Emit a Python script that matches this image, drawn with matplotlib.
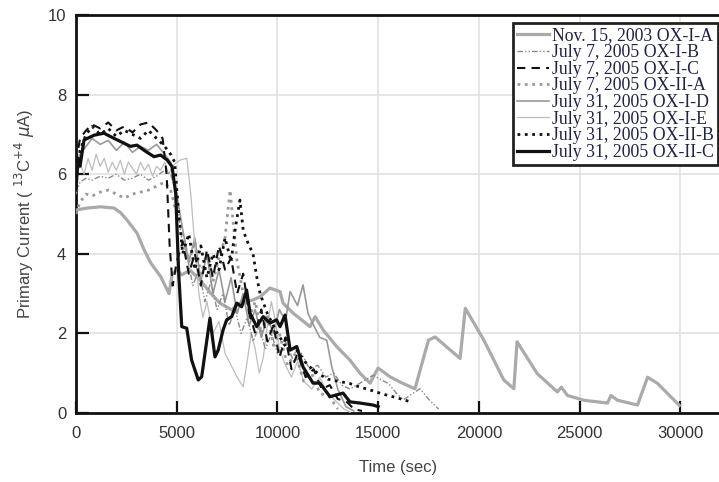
import matplotlib
matplotlib.use("Agg")
import matplotlib.pyplot as plt

# ---------------- data ----------------
labels = ["Nov. 15, 2003 OX-I-A", "July 7, 2005 OX-I-B", "July 7, 2005 OX-I-C",
          "July 7, 2005 OX-II-A", "July 31, 2005 OX-I-D", "July 31, 2005 OX-I-E",
          "July 31, 2005 OX-II-B", "July 31, 2005 OX-II-C"]

x_ia = [0, 560, 1220, 1890, 2220, 2530, 3030, 3380, 3710, 4200, 4620, 4780, 5010, 5250,
        5660, 6160, 6700, 7150, 7730, 8140, 8790, 9140, 9630, 10130, 10280, 10780, 11620,
        11870, 12280, 12940, 13600, 14100, 14600, 15000, 15590, 16200, 16830, 17500, 17830,
        19070, 19330, 20250, 21240, 21740, 21900, 22900, 23900, 24100, 24400, 25220, 26390,
        26560, 26890, 27880, 28380, 28880, 29960]
y_ia = [5.1, 5.15, 5.18, 5.15, 5.03, 4.85, 4.52, 4.1, 3.77, 3.43, 3.0, 3.5, 3.59, 3.47,
        3.59, 3.34, 3.0, 2.76, 2.59, 2.76, 2.84, 2.92, 3.14, 3.05, 2.76, 2.51, 2.17,
        2.42, 2.08, 1.67, 1.33, 1.0, 0.75, 1.13, 0.91, 0.75, 0.61, 1.83, 1.91,
        1.37, 2.63, 1.83, 0.83, 0.61, 1.79, 0.99, 0.53, 0.65, 0.44, 0.32, 0.25,
        0.44, 0.32, 0.2, 0.9, 0.74, 0.19]

x_ib = [0, 200, 500, 800, 1200, 1600, 2000, 2400, 2800, 3200, 3600, 4000, 4400, 4700, 5000,
        5200, 5500, 5800, 6100, 6400, 6700, 7000, 7300, 7600, 7900, 8200, 8500, 8800, 9100,
        9400, 9700, 10000, 10400, 10800, 11200, 11600, 12000, 12400, 12800, 13200, 13600,
        14100, 14750, 15100, 15540, 15900, 16260, 16600, 17080, 17500, 18000]
y_ib = [5.5, 5.8, 5.9, 5.85, 5.95, 5.9, 6.0, 5.85, 5.9, 6.0, 5.85, 5.95, 6.1, 6.0, 5.5,
        4.5, 4.0, 3.2, 3.6, 2.8, 3.3, 2.6, 3.0, 2.2, 2.6, 2.0, 2.4, 1.8, 2.2,
        1.6, 2.0, 1.5, 1.8, 1.3, 1.5, 1.1, 1.2, 0.9, 1.0, 0.7, 0.6,
        0.75, 0.95, 0.85, 0.73, 0.5, 0.33, 0.45, 0.61, 0.35, 0.1]

x_ic = [0, 200, 500, 800, 1200, 1600, 2000, 2400, 2800, 3200, 3600, 4000, 4300, 4500, 4650,
        4800, 5000, 5300, 5600, 5900, 6200, 6500, 6800, 7100, 7400, 7700, 8000, 8300, 8600,
        8900, 9200, 9500, 9800, 10100, 10400, 10700, 11000, 11400, 11800, 12200, 12600,
        13000, 13400, 13800, 14200]
y_ic = [6.3, 6.9, 7.1, 7.25, 7.15, 7.3, 7.1, 7.2, 7.05, 7.25, 7.3, 7.1, 6.9, 6.0, 4.2,
        3.2, 3.8, 4.3, 3.5, 4.0, 3.2, 4.1, 3.4, 4.2, 3.6, 3.9, 3.0, 3.5, 2.5,
        2.0, 2.6, 1.8, 2.2, 1.4, 1.9, 1.1, 1.5, 0.9, 1.1, 0.6, 0.7,
        0.35, 0.3, 0.1, 0.05]

x_iia = [0, 200, 500, 800, 1200, 1600, 2000, 2400, 2800, 3200, 3600, 4000, 4400, 4700, 5000,
         5300, 5600, 5900, 6200, 6500, 6800, 7100, 7400, 7650, 7800, 8000, 8300, 8600, 8900,
         9200, 9500, 9800, 10100, 10500, 10900, 11300, 11700, 12100, 12600, 13000]
y_iia = [5.0, 5.3, 5.5, 5.45, 5.55, 5.6, 5.5, 5.4, 5.5, 5.55, 5.6, 5.7, 5.8, 5.6, 5.0,
         4.5, 3.8, 4.3, 3.5, 4.0, 3.3, 3.9, 4.4, 5.6, 4.8, 3.8, 3.0, 2.4, 2.8,
         2.0, 2.5, 1.7, 2.0, 1.2, 1.5, 0.8, 1.0, 0.5, 0.4, 0.1]

x_id = [0, 200, 500, 800, 1200, 1600, 2000, 2400, 2800, 3200, 3600, 4000, 4400, 4700, 5000,
        5300, 5600, 5900, 6200, 6500, 6800, 7100, 7400, 7700, 8000, 8300, 8600, 8900, 9200,
        9500, 9800, 10100, 10400, 10630, 10800, 11000, 11270, 11520, 11800, 12100, 12450,
        12700, 13000, 13400, 13800]
y_id = [6.2, 6.5, 6.7, 6.9, 6.75, 6.85, 6.6, 6.8, 6.55, 6.7, 6.6, 6.75, 6.5, 6.3, 5.5,
        4.6, 3.8, 4.4, 3.3, 4.0, 3.0, 3.6, 2.8, 3.4, 2.5, 3.0, 2.2, 2.6, 1.9,
        2.4, 2.0, 2.6, 2.3, 3.05, 2.89, 2.7, 3.22, 2.5, 2.2, 1.9, 1.83,
        1.16, 0.6, 0.16, 0.05]

x_ie = [0, 200, 400, 600, 800, 1000, 1200, 1400, 1600, 1800, 2000, 2200, 2400, 2600, 2800,
        3000, 3200, 3400, 3600, 3800, 4000, 4200, 4400, 4600, 4800, 5000, 5200, 5500, 5700,
        5900, 6100, 6300, 6500, 6800, 7100, 7400, 7700, 8000, 8300, 8500, 8700, 8900, 9100,
        9300, 9500, 9700, 9900, 10100, 10400, 10700, 11000, 11300, 11700, 12100, 12500,
        12900, 13300, 13600]
y_ie = [5.8, 6.3, 6.0, 6.4, 6.1, 6.5, 6.2, 6.4, 6.05, 6.3, 6.1, 6.35, 6.0, 6.3, 6.15,
        6.0, 6.3, 6.1, 6.25, 5.95, 6.2, 6.1, 6.3, 6.0, 6.2, 6.3, 6.36, 6.4, 5.5,
        4.2, 3.0, 2.4, 2.8, 2.0, 2.3, 1.5, 1.2, 0.9, 0.66, 1.3, 2.0, 1.6, 1.0,
        1.4, 2.2, 2.8, 2.3, 1.6, 1.2, 0.9, 1.3, 0.8, 0.6, 0.9, 0.5,
        0.3, 0.1, 0.02]

x_iib = [0, 200, 500, 800, 1200, 1600, 2000, 2400, 2800, 3200, 3600, 4000, 4400, 4700, 4900,
         5100, 5300, 5600, 5900, 6200, 6500, 6800, 7100, 7400, 7700, 7900, 8140, 8300, 8470,
         8790, 8970, 9140, 9500, 10000, 10500, 10960, 11500, 12000, 12500, 13000, 13600,
         14100, 14600, 15200, 15800, 16300, 16600]
y_iib = [5.8, 6.6, 7.0, 7.2, 7.0, 7.15, 6.95, 7.1, 7.0, 6.9, 7.1, 6.9, 6.7, 6.5, 6.3,
         5.0, 4.0, 4.5, 3.6, 4.2, 3.4, 4.0, 3.6, 4.4, 3.8, 4.6, 5.35, 4.6, 4.35,
         4.0, 3.43, 3.0, 2.5, 2.0, 1.6, 1.58, 1.2, 1.0, 0.85, 0.8, 0.74,
         0.65, 0.58, 0.48, 0.4, 0.33, 0.28]

x_iic = [0, 100, 200, 400, 900, 1390, 1890, 2380, 2700, 3030, 3380, 3870, 4200, 4520, 4770,
         4950, 5100, 5250, 5500, 5740, 6070, 6240, 6650, 6900, 7060, 7300, 7480, 7730, 7980,
         8230, 8470, 8640, 8970, 9290, 9630, 9960, 10130, 10380, 10630, 10960, 11270, 11770,
         12110, 12610, 13260, 13600, 14100, 14750, 15000]
y_iic = [5.6, 6.4, 6.2, 6.86, 6.98, 7.03, 6.9, 6.78, 6.7, 6.73, 6.6, 6.44, 6.48, 6.36, 6.19,
         5.52, 3.5, 2.17, 2.13, 1.33, 0.83, 0.91, 2.38, 1.41, 1.58, 2.08, 2.34, 2.42, 2.76,
         2.67, 3.09, 2.51, 2.17, 2.42, 2.26, 2.34, 2.17, 2.46, 1.58, 1.67, 1.16, 0.75,
         0.75, 0.41, 0.5, 0.28, 0.25, 0.2, 0.16]

x_ticks = [0, 5000, 10000, 15000, 20000, 25000, 30000]
y_ticks = [0, 2, 4, 6, 8, 10]

# ---------------- figure ----------------
W, H = 719, 482
fig = plt.figure(figsize=(W / 100, H / 100), dpi=100)
ax = fig.add_axes([76 / W, (H - 413) / H, 644.5 / W, 398 / H])

ax.plot(x_ia, y_ia, color="#aaaaaa", lw=2.3, label=labels[0], zorder=3)
ax.plot(x_ib, y_ib, color="#8a8a8a", lw=1.0, dashes=[4, 1.5, 1, 1.5, 1, 1.5], label=labels[1], zorder=4)
ax.plot(x_ic, y_ic, color="#111111", lw=1.5, dashes=[4, 3], label=labels[2], zorder=5)
ax.plot(x_iia, y_iia, color="#9a9a9a", lw=2.0, linestyle=":", label=labels[3], zorder=4)
ax.plot(x_id, y_id, color="#999999", lw=1.2, label=labels[4], zorder=3)
ax.plot(x_ie, y_ie, color="#bdbdbd", lw=0.9, label=labels[5], zorder=3)
ax.plot(x_iib, y_iib, color="#111111", lw=2.0, linestyle=":", label=labels[6], zorder=5)
ax.plot(x_iic, y_iic, color="#111111", lw=2.3, label=labels[7], zorder=6)

ax.set_xlim(0, 32000)
ax.set_ylim(0, 10)
ax.set_xticks(x_ticks)
ax.set_yticks(y_ticks)
ax.grid(True, color="#e2e2e2", lw=1.2, zorder=0)
ax.set_axisbelow(True)

for s in ax.spines.values():
    s.set_linewidth(2.0)
    s.set_color("#111111")

ax.tick_params(direction="in", length=9, width=1.6, color="#111111",
               labelsize=12, labelcolor="#333333", pad=9,
               labelfontfamily="Liberation Sans")
ax.tick_params(axis="y", pad=7)

ax.set_xlabel("Time (sec)", fontsize=12, color="#444444", family="Liberation Sans", labelpad=14)
ax.set_ylabel(r"Primary Current ( $^{13}$C$^{+4}$ $\mu$A)", fontsize=12, color="#444444",
              family="Liberation Sans", labelpad=8)

leg = ax.legend(loc="upper right", bbox_to_anchor=(718 / W, (H - 23) / H),
                bbox_transform=fig.transFigure, borderaxespad=0,
                prop={"family": "Liberation Serif", "size": 12.8},
                labelspacing=-0.02, handlelength=1.8, handletextpad=0.15,
                borderpad=0.25, fancybox=False, framealpha=1)
leg.get_frame().set_edgecolor("#222222")
leg.get_frame().set_linewidth(2.0)
for t in leg.get_texts():
    t.set_color("#20204a")

fig.savefig("out.png", dpi=100)
